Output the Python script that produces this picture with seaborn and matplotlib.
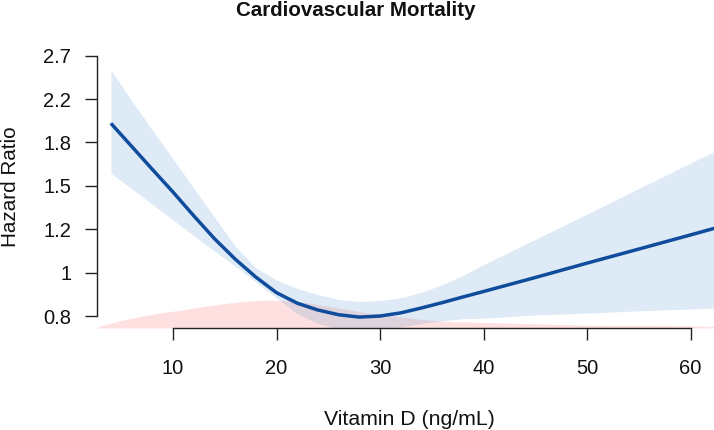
import numpy as np
import pandas as pd
import matplotlib
matplotlib.use("Agg")
import matplotlib.pyplot as plt
import seaborn as sns

# ---- data ----
vitd = [4, 6, 8, 10, 12, 14, 16, 18, 20, 22, 24, 26, 28, 30, 32, 34, 36, 38, 40,
        45, 50, 55, 60, 62.5]
hr = [1.99, 1.79, 1.61, 1.45, 1.30, 1.17, 1.065, 0.98, 0.912, 0.869, 0.842, 0.824,
      0.815, 0.819, 0.831, 0.85, 0.871, 0.894, 0.917, 0.978, 1.045, 1.115, 1.19, 1.23]
hr_upper = [2.545, 2.21, 1.93, 1.69, 1.477, 1.292, 1.131, 1.022, 0.967, 0.930,
            0.904, 0.884, 0.876, 0.880, 0.891, 0.914, 0.946, 0.988, 1.038,
            1.166, 1.31, 1.474, 1.657, 1.756]
hr_lower = [1.581, 1.473, 1.370, 1.275, 1.186, 1.105, 1.031, 0.958, 0.890, 0.827,
            0.791, 0.771, 0.763, 0.767, 0.779, 0.791, 0.801, 0.809, 0.811,
            0.823, 0.830, 0.839, 0.846, 0.850]

dens_x = [2.66, 5, 7, 9, 11, 13, 15, 17, 19, 21, 23, 25, 27, 29, 31, 33, 35, 37, 40,
          45, 50, 55, 60, 63]
dens_y = [0.0014, 0.011, 0.017, 0.022, 0.026, 0.031, 0.035, 0.038, 0.040, 0.039,
          0.036, 0.031, 0.026, 0.021, 0.018, 0.014, 0.011, 0.009, 0.008,
          0.006, 0.004, 0.0036, 0.003, 0.002]

y_tick_labels = ["0.8", "1", "1.2", "1.5", "1.8", "2.2", "2.7"]
y_tick_logs = [-0.2, 0.0, 0.2, 0.4, 0.6, 0.8, 1.0]
x_ticks = [10, 20, 30, 40, 50, 60]

df = pd.DataFrame({"vitd": vitd, "loghr": np.log(hr),
                   "lo": np.log(hr_lower), "hi": np.log(hr_upper)})
dd = pd.DataFrame({"x": dens_x, "d": dens_y})

# ---- style ----
sns.set_style("white")
plt.rcParams["font.family"] = ["Liberation Sans", "DejaVu Sans"]

W, H = 714, 430
fig = plt.figure(figsize=(W / 100, H / 100), dpi=100)
ax_l, ax_r, ax_t, ax_b = 97, 714, 45, 328
ax = fig.add_axes([ax_l / W, 1 - ax_b / H, (ax_r - ax_l) / W, (ax_b - ax_t) / H])

ymin, ymax = -0.2548, 1.049
xmin, xmax = 2.657, 62.27

# density of vitamin D at the bottom
dscale = 0.129 / max(dens_y)
ax.fill_between(dd["x"], ymin, ymin + dd["d"] * dscale,
                color=(1.0, 0.0, 0.0), alpha=0.12, linewidth=0)

# confidence band
ax.fill_between(df["vitd"], df["lo"], df["hi"], color="#5B9BD5", alpha=0.2,
                linewidth=0)

# hazard ratio curve
sns.lineplot(data=df, x="vitd", y="loghr", ax=ax, color="#0f4c9c",
             linewidth=2.5, solid_capstyle="butt")

ax.set_xlim(xmin, xmax)
ax.set_ylim(ymin, ymax)

for s in ["top", "right"]:
    ax.spines[s].set_visible(False)
for s in ["left", "bottom"]:
    ax.spines[s].set_linewidth(1.0)
    ax.spines[s].set_color("#222222")
ax.spines["left"].set_bounds(y_tick_logs[0], y_tick_logs[-1])
ax.spines["bottom"].set_bounds(x_ticks[0], x_ticks[-1])

ax.set_yticks(y_tick_logs)
ax.set_yticklabels(y_tick_labels)
ax.set_xticks(x_ticks)
ax.set_xticklabels([str(v) for v in x_ticks])
ax.tick_params(axis="both", direction="out", length=8.6, width=1.0,
               color="#222222", labelcolor="#111111", labelsize=14.5)
ax.tick_params(axis="y", pad=10.0, left=True)
ax.tick_params(axis="x", pad=13.5, bottom=True)

ax.set_xlabel("Vitamin D (ng/mL)", fontsize=15.3, color="#111111")
ax.set_ylabel("Hazard Ratio", fontsize=14.9, color="#111111")
axw, axh = ax_r - ax_l, ax_b - ax_t
ax.xaxis.set_label_coords((409 - ax_l) / axw, (ax_b - 425) / axh)
ax.xaxis.label.set_va("baseline")
ax.yaxis.set_label_coords((10.3 - ax_l) / axw, (ax_b - 187) / axh)
ax.yaxis.label.set_va("center")
ax.yaxis.label.set_ha("center")

fig.text(356 / W, 1 - 16 / H, "Cardiovascular Mortality", ha="center",
         va="baseline", fontsize=14.8, fontweight="bold", color="#111111")

fig.savefig("out.png", dpi=100)
